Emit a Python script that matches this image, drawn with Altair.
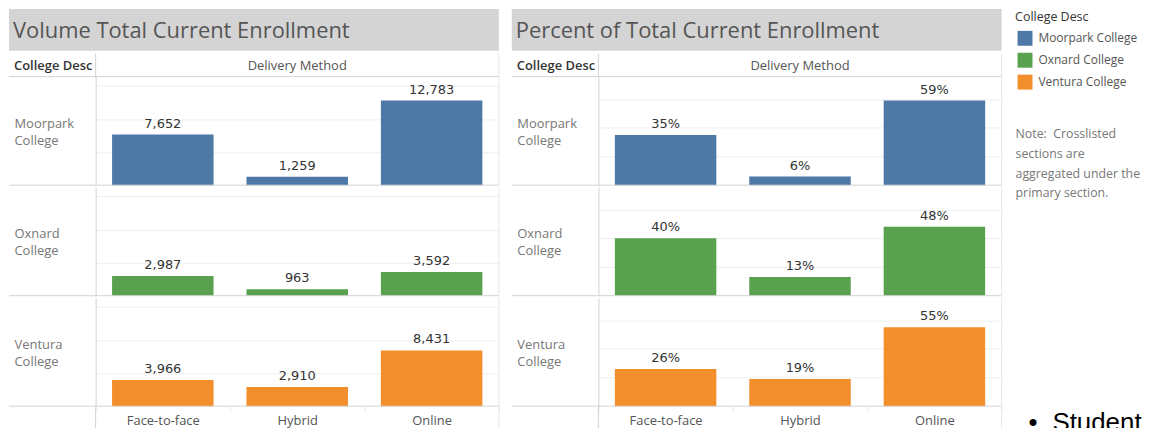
import altair as alt
import pandas as pd

colleges = ["Moorpark College", "Oxnard College", "Ventura College"]
college_lines = [["Moorpark", "College"], ["Oxnard", "College"], ["Ventura", "College"]]
methods = ["Face-to-face", "Hybrid", "Online"]
college_colors = ["#4e79a7", "#59a14f", "#f28e2b"]

volume_moorpark = [7652, 1259, 12783]
volume_oxnard = [2987, 963, 3592]
volume_ventura = [3966, 2910, 8431]

percent_moorpark = [35, 6, 59]
percent_oxnard = [40, 13, 48]
percent_ventura = [26, 19, 55]

volume_grid = [5000, 10000, 15000]
percent_grid = [0.2, 0.4, 0.6]

panel_titles = ["Volume Total Current Enrollment", "Percent of Total Current Enrollment"]
header_left = "College Desc"
header_top = "Delivery Method"
legend_title = "College Desc"
note_lines = ["Note:\u00a0 Crosslisted", "sections are", "aggregated under the", "primary section."]
bullet_text = ["•", "Student"]

FONT = "Open Sans"
NUM_FONT = "DejaVu Sans"
W, H, LEFT = 405, 109, 87
SEP = "#d3d3d3"
GRID = "#eeeeee"


def one(**cols):
    return alt.Chart(pd.DataFrame(cols))


def row_chart(title, ci, values, fmt, ymax, grid_vals, first, last):
    d = pd.DataFrame({"College": colleges[ci], "Method": methods, "Value": values})
    xaxis = None
    if last:
        xaxis = alt.Axis(labelAngle=0, labelFontSize=13, labelColor="#555", labelFont=FONT,
                         labelPadding=3, ticks=True, tickBand="extent", tickSize=5,
                         tickColor="#e8e8e8", domain=False, grid=False)
    x = alt.X("Method:N", sort=methods, title=None,
              scale=alt.Scale(domain=methods, paddingInner=0, paddingOuter=0), axis=xaxis)
    y = alt.Y("Value:Q", scale=alt.Scale(domain=[0, ymax], nice=False, zero=True),
              axis=alt.Axis(title=college_lines[ci], titleAngle=0, titleAlign="left",
                            titleBaseline="middle", titleX=-82, titleY=47, titleFontSize=13,
                            titleFont=FONT, titleColor="#777", titleFontWeight="normal",
                            titleLineHeight=17, labels=False, ticks=False, domain=True,
                            domainColor=SEP, grid=True, gridColor=GRID, values=grid_vals))
    color = alt.Color("College:N", scale=alt.Scale(domain=colleges, range=college_colors),
                      legend=None)
    base = alt.Chart(d)
    bars = base.mark_bar(width=alt.RelativeBandSize(0.755)).encode(x=x, y=y, color=color)
    labels = base.mark_text(baseline="bottom", dy=-4, font=NUM_FONT, fontSize=13,
                            color="#333").encode(x=x, y=y, text=alt.Text("Value:Q", format=fmt))
    sep = one(k=[0]).mark_rule(color=SEP).encode(x=alt.value(-LEFT), x2=alt.value(W), y=alt.value(H))
    top = -23 if first else 0
    bottom = H + 26 if last else H
    redge = one(k=[0]).mark_rule(color="#e6e6e6").encode(x=alt.value(W), y=alt.value(top), y2=alt.value(bottom))
    layers = [bars, labels, sep, redge]
    if last:
        vtail = one(k=[0]).mark_rule(color=SEP).encode(x=alt.value(0), y=alt.value(H), y2=alt.value(H + 26))
        layers.append(vtail)
    if first:
        band = one(k=[0]).mark_rect(color="#d4d4d4").encode(
            x=alt.value(-LEFT), x2=alt.value(W), y=alt.value(-68), y2=alt.value(-26))
        ttl = one(t=[title]).mark_text(align="left", baseline="middle", fontSize=22, color="#555",
                                       font=FONT).encode(x=alt.value(-83), y=alt.value(-46), text="t:N")
        h1 = one(t=[header_left]).mark_text(align="left", baseline="middle", fontSize=13, color="#333",
                                            font=FONT, fontWeight=600).encode(
            x=alt.value(-82), y=alt.value(-11), text="t:N")
        h2 = one(t=[header_top]).mark_text(align="center", baseline="middle", fontSize=13, color="#555",
                                           font=FONT).encode(x=alt.value(W / 2), y=alt.value(-11), text="t:N")
        topline = one(k=[0]).mark_rule(color=SEP).encode(x=alt.value(-LEFT), x2=alt.value(W), y=alt.value(0))
        vseg = one(k=[0]).mark_rule(color=SEP).encode(x=alt.value(0), y=alt.value(-23), y2=alt.value(0))
        layers = [band, ttl, h1, h2, topline, vseg] + layers
    return alt.layer(*layers).properties(width=W, height=H)


vol = [volume_moorpark, volume_oxnard, volume_ventura]
pct = [[p / 100 for p in percent_moorpark], [p / 100 for p in percent_oxnard],
       [p / 100 for p in percent_ventura]]

left = alt.vconcat(*[row_chart(panel_titles[0], i, vol[i], ",", 16400, volume_grid, i == 0, i == 2)
                     for i in range(3)], spacing=0)
right = alt.vconcat(*[row_chart(panel_titles[1], i, pct[i], ".0%", 0.757, percent_grid, i == 0, i == 2)
                      for i in range(3)], spacing=0)

# side column: legend, note and the slide text behind the dashboard
leg_df = pd.DataFrame({"College": colleges})
leg_y = alt.Y("College:N", axis=None,
              scale=alt.Scale(domain=colleges, range=[-38.5, 5.5], padding=0))
leg_sw = alt.Chart(leg_df).mark_square(size=225, opacity=1).encode(
    x=alt.value(11.5), y=leg_y,
    color=alt.Color("College:N", scale=alt.Scale(domain=colleges, range=college_colors), legend=None))
leg_lab = alt.Chart(leg_df).mark_text(align="left", baseline="middle", fontSize=12, color="#555",
                                      font=FONT).encode(x=alt.value(25), y=leg_y, text="College:N")
leg_ttl = one(t=[legend_title]).mark_text(align="left", baseline="middle", fontSize=12.5, color="#333",
                                          font=FONT).encode(x=alt.value(1.5), y=alt.value(-60), text="t:N")
note = one(t=["\n".join(note_lines)]).mark_text(
    align="left", baseline="top", lineBreak="\n", lineHeight=19.7, fontSize=12.4, color="#777",
    font=FONT).encode(x=alt.value(2), y=alt.value(52), text="t:N")
bullet = one(t=[bullet_text[0]]).mark_text(
    align="left", baseline="alphabetic", fontSize=26, color="#000", font="Liberation Sans").encode(
    x=alt.value(15), y=alt.value(356), text="t:N")
student = one(t=[bullet_text[1]]).mark_text(
    align="left", baseline="alphabetic", fontSize=26, color="#000", font="Liberation Sans").encode(
    x=alt.value(39), y=alt.value(356), text="t:N")
side = alt.layer(leg_sw, leg_lab, leg_ttl, note, bullet, student).properties(width=126, height=3 * H)

chart = alt.hconcat(left, right, side, spacing=11, padding=0).configure(
    font=FONT, background="white").configure_view(stroke=None)

chart.save("out.html", embed_options={"renderer": "svg", "actions": False})
